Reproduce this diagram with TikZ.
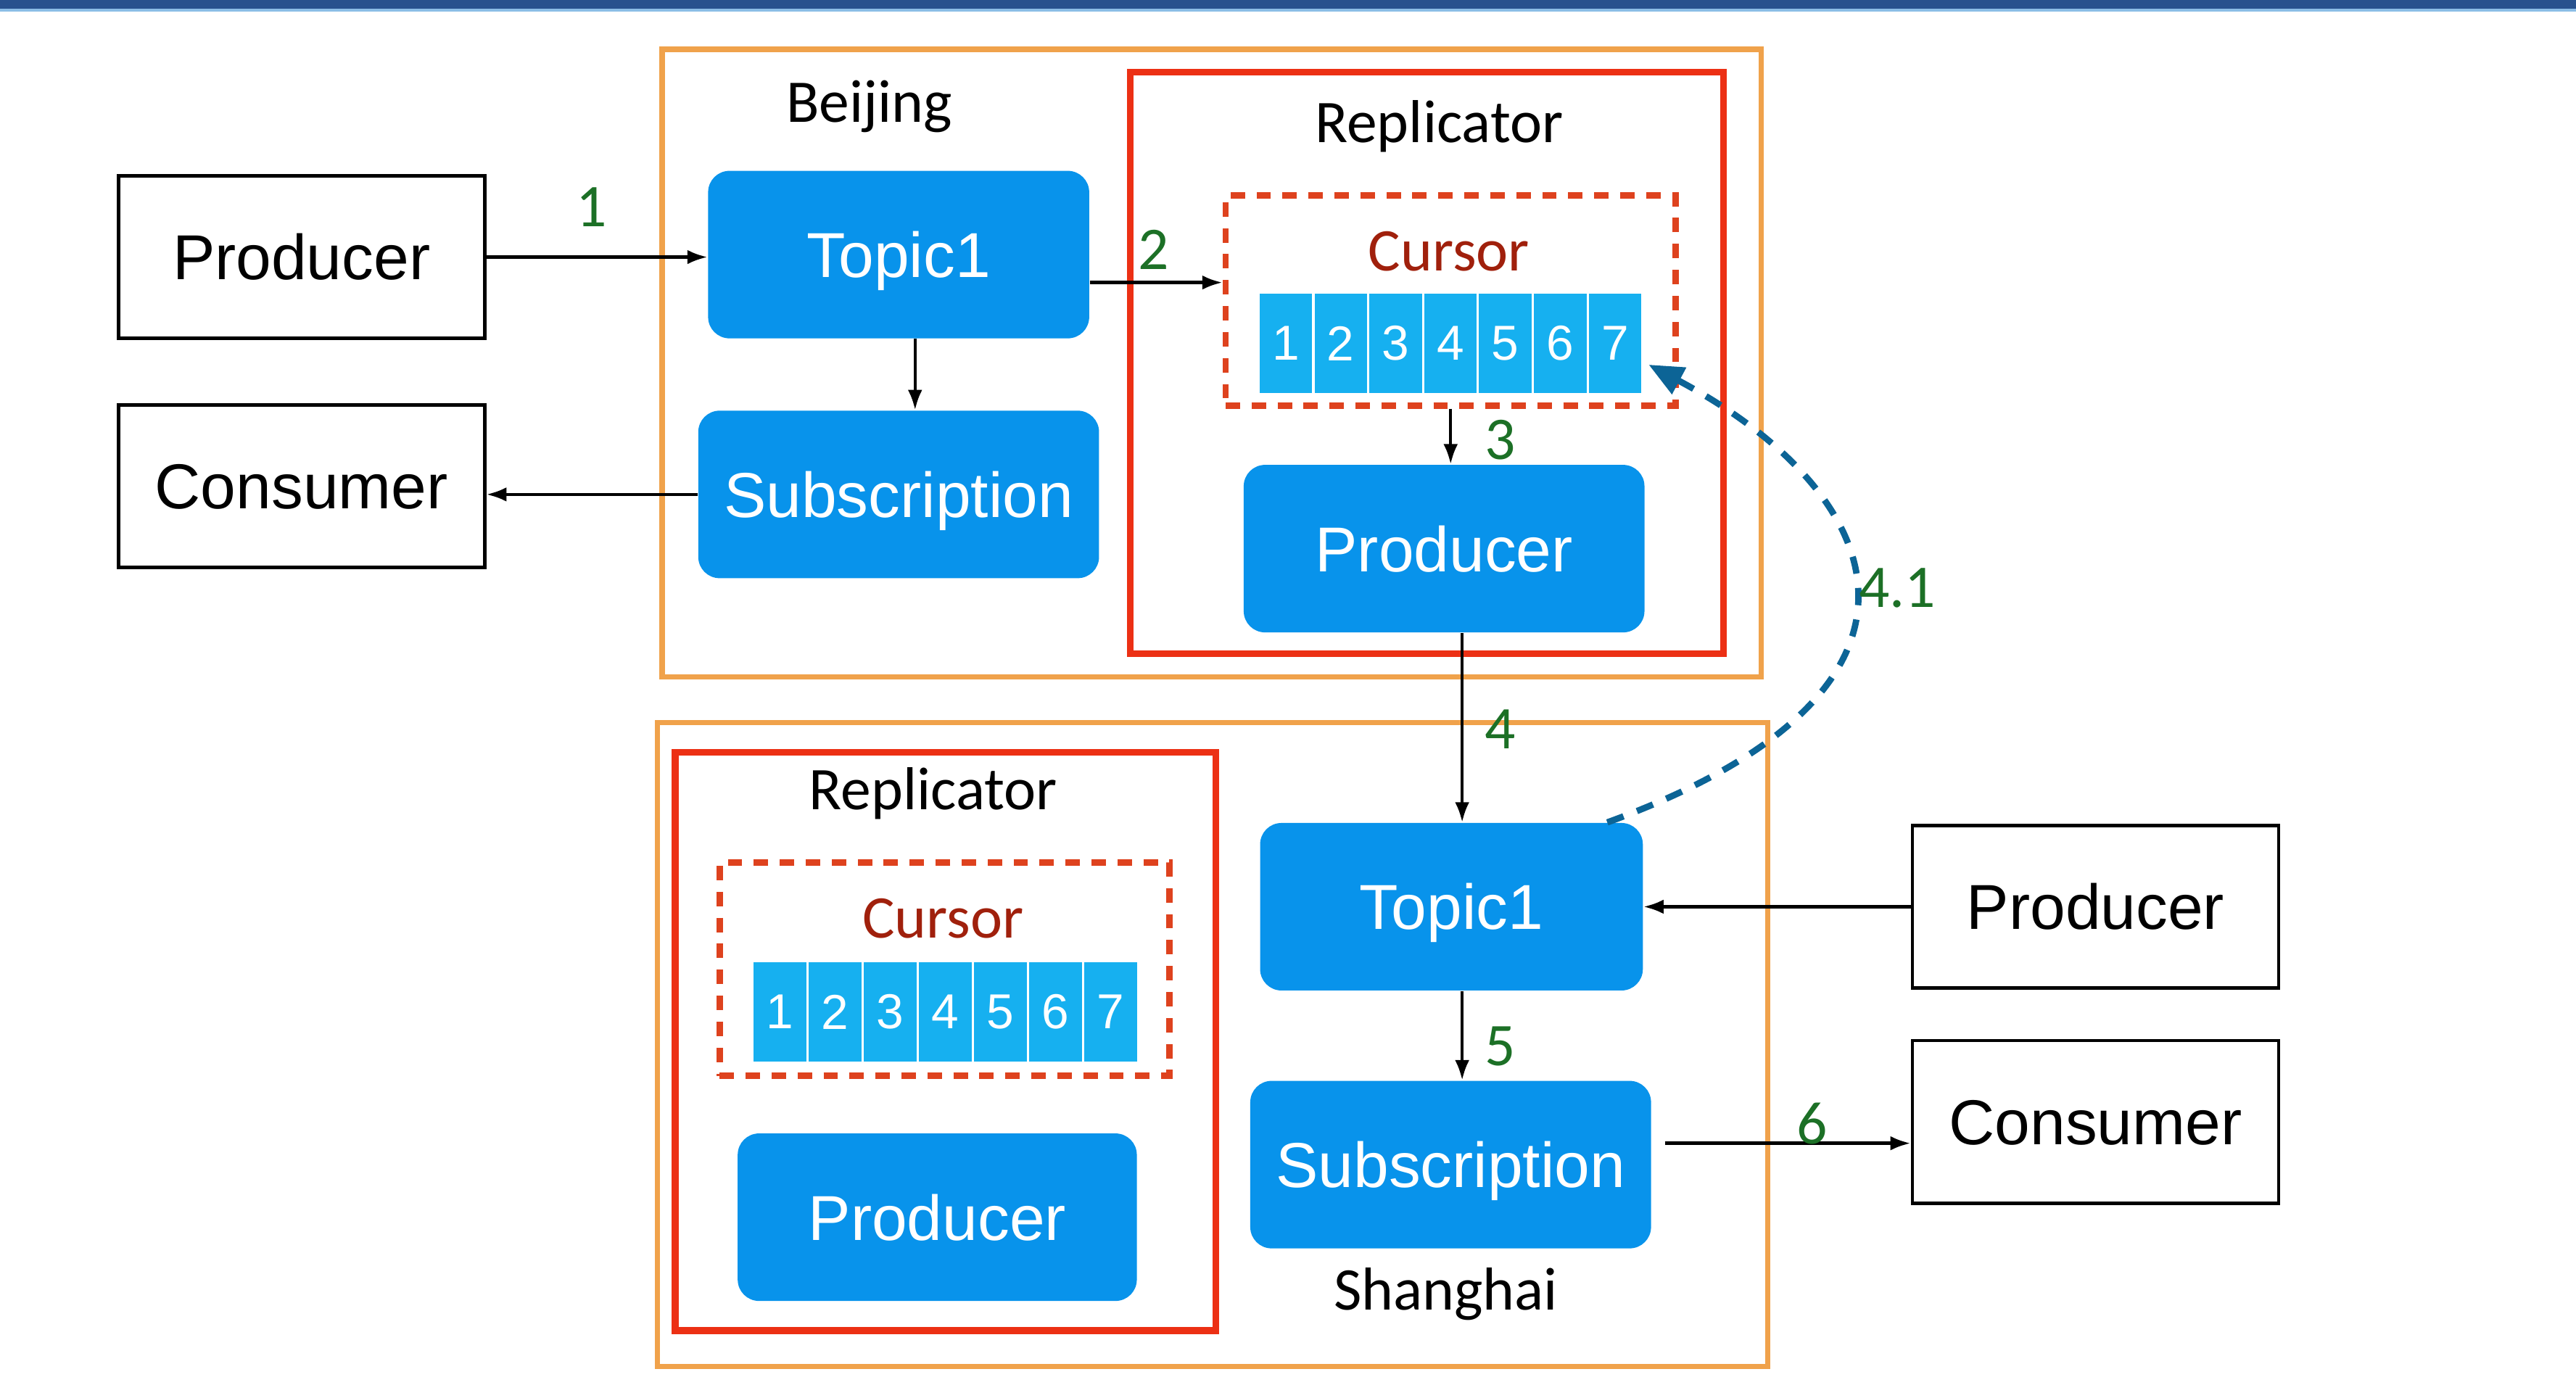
\documentclass[tikz,border=0pt]{standalone}
\usepackage{fontspec}
\setmainfont{Liberation Sans}
\newfontfamily\labelfont{Carlito}
\usetikzlibrary{arrows.meta}
\definecolor{boxblue}{RGB}{8,147,235}
\definecolor{cellblue}{RGB}{22,176,240}
\definecolor{siteorange}{RGB}{240,162,75}
\definecolor{repred}{RGB}{236,48,20}
\definecolor{curred}{RGB}{222,66,30}
\definecolor{curtext}{RGB}{160,32,12}
\definecolor{stepgreen}{RGB}{28,112,38}
\definecolor{linkblue}{RGB}{12,100,150}
\definecolor{barblue}{RGB}{40,82,142}
\definecolor{barlight}{RGB}{140,190,230}
\tikzset{
  bluebox/.style={rectangle, rounded corners=0.26cm, fill=boxblue, text=white,
    font=\fontsize{22}{26}\selectfont, text height=15.8pt, text depth=0pt, minimum height=2.04cm},
  whitebox/.style={rectangle, draw=black, line width=1.2pt, fill=white,
    font=\fontsize{22}{26}\selectfont, text height=15.8pt, text depth=0pt,
    minimum width=4.46cm, minimum height=1.98cm},
  cellbox/.style={rectangle, fill=cellblue, draw=white, line width=0.8pt, text=white,
    font=\fontsize{17}{20}\selectfont, minimum width=0.668cm, minimum height=1.24cm, inner sep=0pt},
  cursorbox/.style={rectangle, draw=curred, line width=2.2pt, dash pattern=on 5pt off 4pt,
    minimum width=5.48cm, minimum height=2.56cm},
  flow/.style={-{Latex[length=7pt,width=5pt]}, line width=1.1pt},
  linkdash/.style={-{Triangle[length=12pt,width=10pt]}, draw=linkblue,
    line width=2.2pt, dash pattern=on 6pt off 5pt},
  steplabel/.style={text=stepgreen, font=\labelfont\fontsize{21}{25}\selectfont},
  sitetitle/.style={font=\labelfont\fontsize{21}{25}\selectfont},
  site/.style={draw=siteorange, line width=1.8pt},
  repbox/.style={draw=repred, line width=2.4pt},
}
\begin{document}
\begin{tikzpicture}[x=0.02cm,y=-0.02cm]
\useasboundingbox (0,0) rectangle (1568,838);
\fill[barblue] (0,0) rectangle (1568,5.5); % top bar
\fill[barlight] (0,5.5) rectangle (1568,7);

% Beijing
\draw[site] (403,30) rectangle (1072,412);
\draw[repbox] (688,44) rectangle (1049,398);
\node[sitetitle] (bj) at (529,65) {Beijing};
\node[sitetitle] (repBJ) at (876,77) {Replicator};
\node[cursorbox] (curBJ) at (883,183) {};
\node[sitetitle, text=curtext] (curtBJ) at (882,153) {Cursor};
\foreach \i in {1,...,7}
  \node[cellbox] (cBJ\i) at ({749.3+33.4*\i},209) {\i};
\node[bluebox, minimum width=4.64cm] (topicBJ) at (547,155) {Topic1};
\node[bluebox, minimum width=4.88cm] (subBJ) at (547,301) {Subscription};
\node[bluebox, minimum width=4.88cm] (prodRepBJ) at (879,334) {Producer};

% Shanghai
\draw[site] (400,440) rectangle (1076,832);
\draw[repbox] (411,458) rectangle (740,810);
\node[sitetitle] (repSH) at (568,483) {Replicator};
\node[cursorbox, minimum height=2.6cm] (curSH) at (575,590) {};
\node[sitetitle, text=curtext] (curtSH) at (574,559) {Cursor};
\foreach \i in {1,...,7}
  \node[cellbox, minimum width=0.671cm] (cSH\i) at ({441.2+33.57*\i},616) {\i};
\node[bluebox, minimum width=4.86cm] (prodRepSH) at (570.5,741) {Producer};
\node[bluebox, minimum width=4.66cm] (topicSH) at (883.5,552) {Topic1};
\node[bluebox, minimum width=4.88cm] (subSH) at (883,709) {Subscription};
\node[sitetitle] (sh) at (880,788) {Shanghai};

% clients
\node[whitebox] (prodL) at (183.5,156.5) {Producer};
\node[whitebox] (consL) at (183.5,296) {Consumer};
\node[whitebox] (prodR) at (1275.5,552) {Producer};
\node[whitebox] (consR) at (1275.5,683) {Consumer};

% flows
\draw[flow] (prodL.east) -- (prodL.east -| topicBJ.west);
\node[steplabel] (n1) at (360,126) {1};
\coordinate (a2) at ([yshift=-0.34cm]topicBJ.east);
\draw[flow] (a2) -- (a2 -| curBJ.west);
\node[steplabel] (n2) at (702,152) {2};
\coordinate (aSub) at ([xshift=0.2cm]topicBJ.south);
\draw[flow] (aSub) -- (aSub |- subBJ.north);
\draw[flow] (subBJ.west) -- (subBJ.west -| consL.east);
\draw[flow] (curBJ.south) -- (curBJ.south |- prodRepBJ.north);
\node[steplabel] (n3) at (913,268) {3};
\coordinate (a4) at ([xshift=0.22cm]prodRepBJ.south);
\draw[flow] (a4) -- (a4 |- topicSH.north);
\node[steplabel] (n4) at (913,444) {4};
\draw[flow] (prodR.west) -- (prodR.west -| topicSH.east);
\coordinate (a5) at ([xshift=0.13cm]topicSH.south);
\draw[flow] (a5) -- (a5 |- subSH.north);
\node[steplabel] (n5) at (913,637) {5};
\coordinate (a6) at ([xshift=0.16cm,yshift=0.26cm]subSH.east);
\draw[flow] (a6) -- (a6 -| consR.west);
\node[steplabel] (n6) at (1103,684) {6};

% cursor update
\coordinate (a41) at ([xshift=-0.44cm]topicSH.north east);
\coordinate (b41) at ([xshift=0.06cm,yshift=-0.26cm]cBJ7.east);
\draw[linkdash] (a41) .. controls (1200,420) and (1150,300) .. (b41);
\node[steplabel] (n41) at (1155,358) {4.1};
\end{tikzpicture}
\end{document}
